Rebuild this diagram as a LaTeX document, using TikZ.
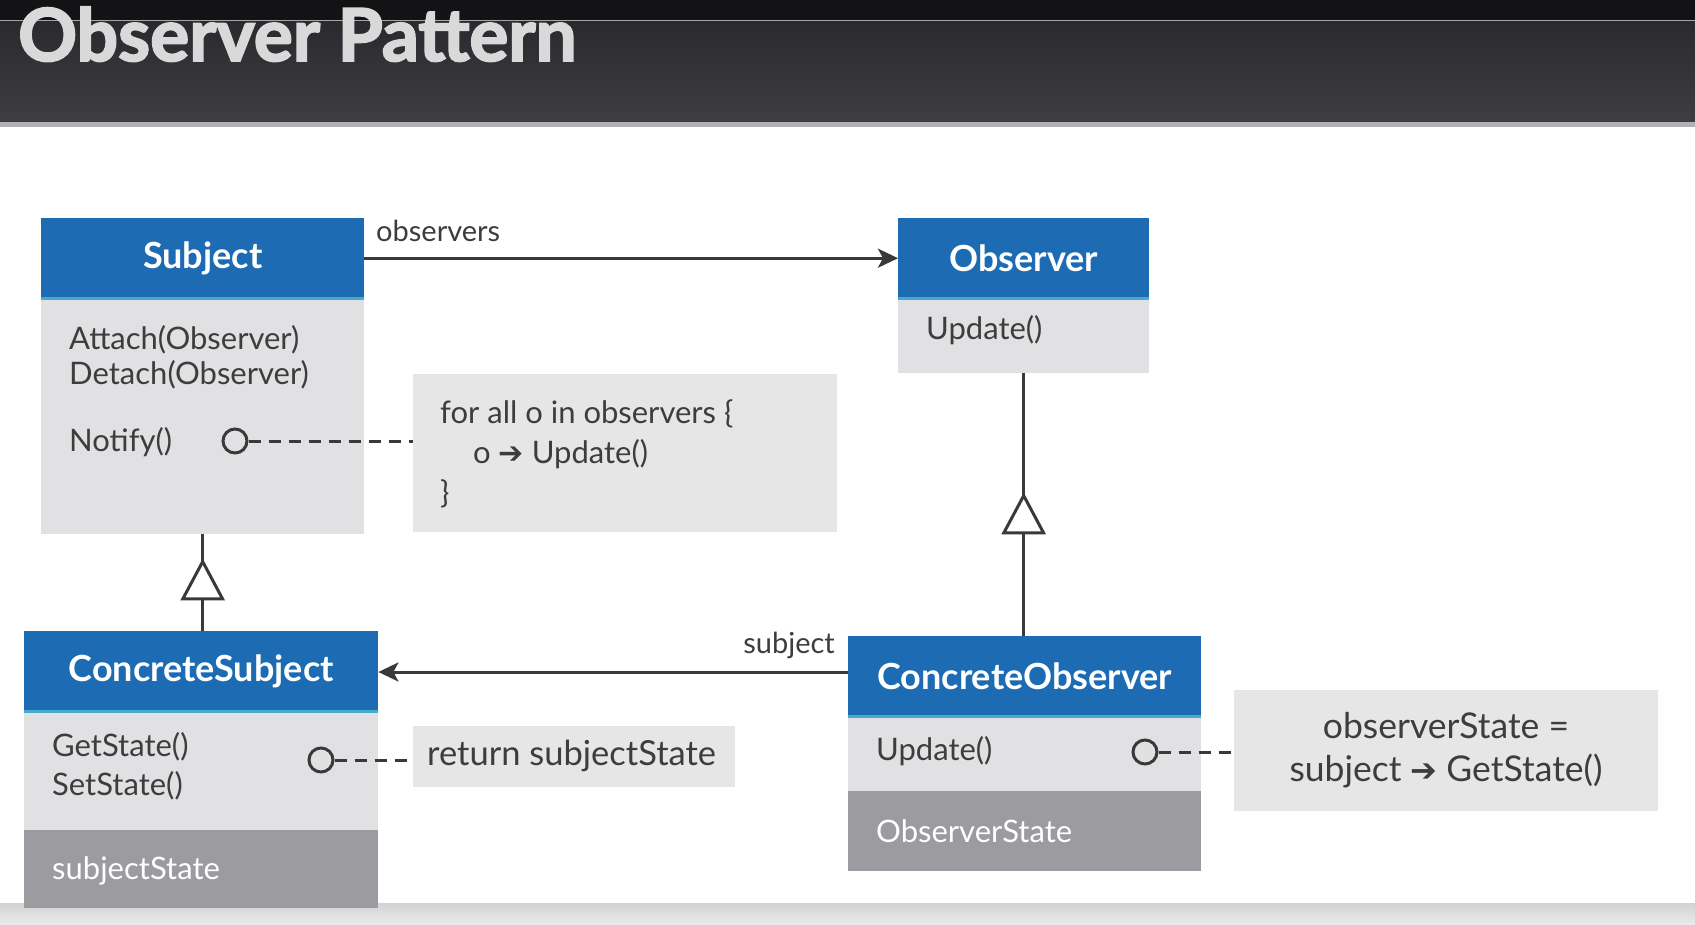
\documentclass[tikz,border=0pt]{standalone}
\usepackage{fontspec}
\setmainfont{Lato}
\newfontfamily\symfont{DejaVu Sans}
\newfontfamily\titlefont{Lato}[BoldFeatures={FakeBold=2.5}]
\usetikzlibrary{arrows.meta,calc}
\definecolor{hdrblue}{HTML}{1D6BB3}
\definecolor{hdrline}{HTML}{45AACB}
\definecolor{bodygray}{HTML}{E1E1E3}
\definecolor{darkgray}{HTML}{9B9BA0}
\definecolor{notegray}{HTML}{E6E6E7}
\definecolor{txt}{HTML}{3D3D3D}
\definecolor{linecol}{HTML}{393939}
\definecolor{barTop}{HTML}{131315}
\definecolor{barA}{HTML}{2A2A2E}
\definecolor{barB}{HTML}{3E3E43}
\tikzset{
  hdr/.style={fill=hdrblue, text=white, inner sep=0pt, anchor=north west,
    font=\fontsize{36}{42}\selectfont\bfseries},
  bodybox/.style={fill=bodygray, inner sep=0pt, anchor=north west},
  darkbox/.style={fill=darkgray, inner sep=0pt, anchor=north west},
  notebox/.style={fill=notegray, inner sep=0pt, anchor=north west},
  meth/.style={anchor=west, inner sep=0pt, text=txt, font=\fontsize{31}{36}\selectfont},
  attr/.style={anchor=west, inner sep=0pt, text=white, font=\fontsize{31}{36}\selectfont},
  notetxt/.style={inner sep=0pt, text=txt, font=\fontsize{31}{36}\selectfont},
  bignote/.style={inner sep=0pt, text=txt, font=\fontsize{35.5}{42}\selectfont},
  lbl/.style={inner sep=0pt, text=txt, font=\fontsize{29}{34}\selectfont},
  knob/.style={circle, draw=linecol, line width=3pt, minimum size=24pt, inner sep=0pt, fill=bodygray},
  dashln/.style={draw=linecol, line width=3pt, dash pattern=on 12pt off 8pt},
  conn/.style={draw=linecol, line width=3pt},
  assoc/.style={conn, -{Stealth[length=20pt,width=19pt,inset=5pt]}},
  gen/.style={conn, -{Triangle[length=42pt,width=44pt,fill=white]}},
  hline/.style={draw=hdrline, line width=3pt}
}
\begin{document}
\begin{tikzpicture}[x=1pt,y=-1pt]
\useasboundingbox (0,0) rectangle (1695,925);
\fill[white] (0,0) rectangle (1695,925);
% title bar
\shade[top color=barA, bottom color=barB] (0,20) rectangle (1695,124);
\fill[barTop] (0,0) rectangle (1695,20);
\draw[gray!70, line width=1pt] (0,20.5) -- (1695,20.5);
\fill[gray!60] (0,122) rectangle (1695,127);
\node[anchor=base west, inner sep=0pt, text=black!15, font=\titlefont\fontsize{73}{80}\selectfont\bfseries] (title) at (18,61) {Observer Pattern};
% bottom bar
\shade[top color=gray!35, bottom color=gray!15] (0,903) rectangle (1695,925);

% Subject
\node[hdr, minimum width=323pt, minimum height=80pt] (subjH) at (41,218) {Subject};
\node[bodybox, minimum width=323pt, minimum height=236pt] (subjB) at (41,298) {};
\draw[hline] (subjH.south west) -- (subjH.south east);
\node[meth] (attach) at (69,340) {Attach(Observer)};
\node[meth] (detach) at (69,375) {Detach(Observer)};
\node[meth] (notify) at (69,442) {Notify()};
\node[knob] (k1) at (235,441) {};

% note 1
\node[notebox, minimum width=424pt, minimum height=158pt] (note1) at (413,374) {};
\node[notetxt, anchor=west] (n1a) at (440,414) {for all o in observers \{};
\node[notetxt, anchor=west] (n1b) at (473,454) {o {\symfont\fontsize{30}{36}\selectfont ➔} Update()};
\node[notetxt, anchor=west] (n1c) at (440,494) {\}};
\draw[dashln] (k1.east) -- (k1.east -| note1.west);

% Observer
\node[hdr, minimum width=251pt, minimum height=80pt] (obsH) at (898,218) {Observer};
\node[bodybox, minimum width=251pt, minimum height=75pt] (obsB) at (898,298) {};
\draw[hline] (obsH.south west) -- (obsH.south east);
\node[meth] (upd1) at (926,330) {Update()};

% association observers
\draw[assoc] (subjH.east) -- (subjH.east -| obsH.west);
\node[lbl, anchor=west] (lobs) at (376,231) {observers};

% ConcreteSubject
\node[hdr, minimum width=354pt, minimum height=80pt] (csH) at (24,631) {ConcreteSubject};
\node[bodybox, minimum width=354pt, minimum height=119pt] (csB) at (24,711) {};
\node[darkbox, minimum width=354pt, minimum height=78pt] (csD) at (24,830) {};
\draw[hline] (csH.south west) -- (csH.south east);
\node[meth] (gets) at (52,747) {GetState()};
\node[meth] (sets) at (52,786) {SetState()};
\node[attr] (sst) at (52,871) {subjectState};
\node[knob] (k2) at (321,760) {};

% note 2
\node[notebox, minimum width=322pt, minimum height=61pt] (note2) at (413,726) {};
\node[notetxt, font=\fontsize{34.5}{40}\selectfont, anchor=west] (n2) at (427,756) {return subjectState};
\draw[dashln] (k2.east) -- (k2.east -| note2.west);

% ConcreteObserver
\node[hdr, minimum width=353pt, minimum height=80pt] (coH) at (848,636) {ConcreteObserver};
\node[bodybox, minimum width=353pt, minimum height=75pt] (coB) at (848,716) {};
\node[darkbox, minimum width=353pt, minimum height=80pt] (coD) at (848,791) {};
\draw[hline] (coH.south west) -- (coH.south east);
\node[meth] (upd2) at (876,751) {Update()};
\node[attr] (ost) at (876,831) {ObserverState};
\node[knob] (k3) at (1145,752) {};

% note 3
\node[notebox, minimum width=424pt, minimum height=121pt] (note3) at (1234,690) {};
\node[bignote] (n3a) at (1446,726) {observerState =};
\node[bignote] (n3b) at (1446,771) {subject {\symfont\fontsize{32}{40}\selectfont ➔} GetState()};
\draw[dashln] (k3.east) -- (k3.east -| note3.west);

% association subject
\draw[assoc] (coH.west |- 0,672) -- (csH.east |- 0,672);
\node[lbl, anchor=east] (lsub) at (835,645) {subject};

% generalizations
\draw[conn] (subjB.south) -- (subjB.south |- csH.north);
\draw[gen, shorten >=24pt] (subjB.south |- csH.north) -- (subjB.south);
\draw[conn] (obsB.south) -- (obsB.south |- coH.north);
\draw[gen, shorten >=119pt] (obsB.south |- coH.north) -- (obsB.south);
\end{tikzpicture}
\end{document}
